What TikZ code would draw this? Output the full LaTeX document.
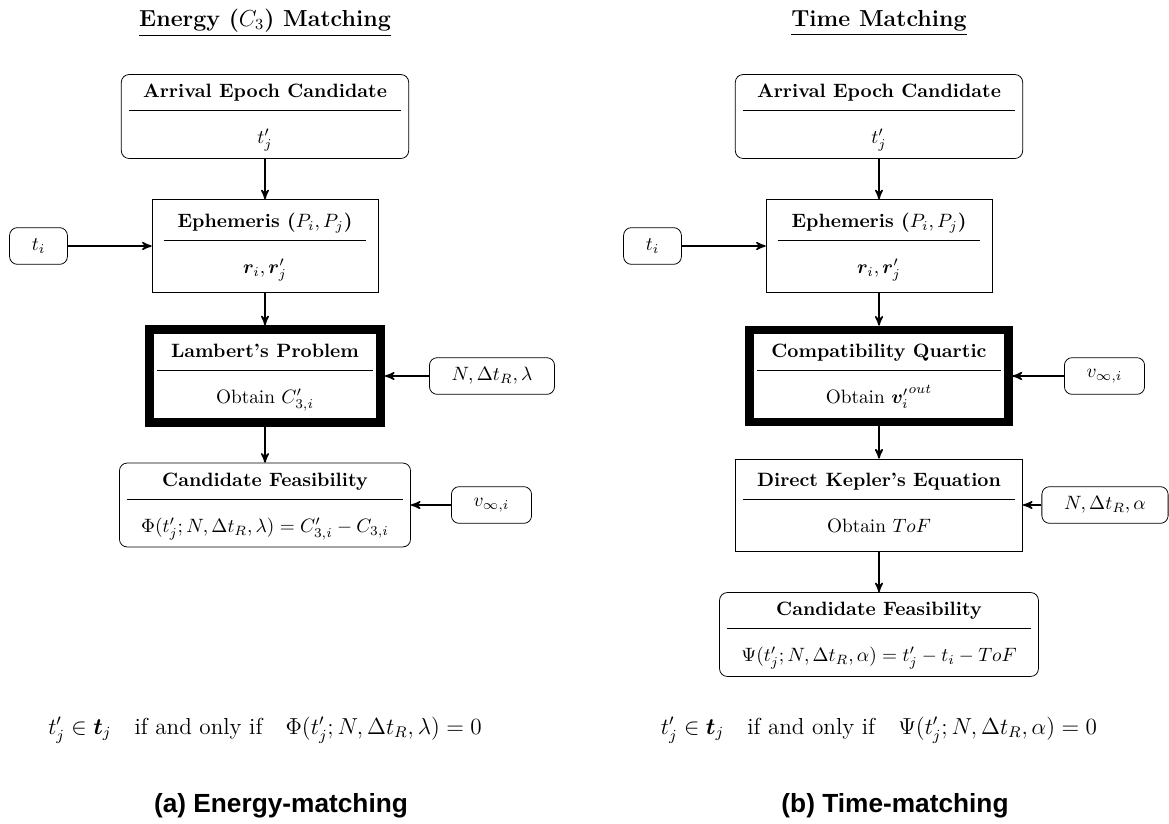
\documentclass[tikz,border=0pt]{standalone}
\usepackage{amsmath}
\usepackage{bm}
\usepackage{fontspec}
\newfontfamily\capfont{Liberation Sans}
\usetikzlibrary{positioning, arrows}
\newcommand{\blocktext}[2]{%
	\begin{tabular}{@{\hspace{7.25pt}}c@{\hspace{7.25pt}}}
		\textbf{#1}\\[2.7pt]\hline
		\rule{0pt}{17pt}#2
	\end{tabular}}
\tikzset{
	->,
	>=stealth',
	block/.style={draw, rectangle, inner xsep=4pt, inner ysep=6pt},
	endblock/.style={block, rounded corners=4pt, inner ysep=3.7pt},
	coreblock/.style={block, line width=4.5pt},
	inbox/.style={draw, rounded corners=4pt, inner xsep=11.5pt, minimum height=19pt},
	eqstyle/.style={font=\large},
	capstyle/.style={font=\capfont\bfseries\fontsize{13.6}{16}\selectfont}}

\begin{document}
\begin{tikzpicture}[x=0.518pt, y=-0.518pt]
		\useasboundingbox (0,0) rectangle (1169,823);

		% energy matching
		\node at (265,23) (titleL) {\large\underline{\textbf{Energy ($C_3$) Matching}}};
		\node[endblock] at (265,116.5) (arrL) {\blocktext{Arrival Epoch Candidate}{$t'_j$}};
		\node[block, inner xsep=6pt] at (265,246) (ephL) {\blocktext{Ephemeris ($P_i, P_j$)}{$\bm{r}_i, \bm{r}'_j$}};
		\node[coreblock] at (265,376) (lamL) {\blocktext{Lambert's Problem}{Obtain $C'_{3,i}$}};
		\node[endblock] at (265,505) (feasL) {\blocktext{Candidate Feasibility}{$\Phi(t'_j; N, \Delta t_R, \lambda) = C'_{3,i} - C_{3,i}$}};
		\node[inbox] at (38.5,246) (tiL) {$t_i$};
		\node[inbox] at (492,376) (nL) {$N, \Delta t_R, \lambda$};
		\node[inbox] at (491.5,505) (vL) {$v_{\infty,i}$};
		\node[eqstyle] at (265,730) (eqL) {$t'_j \in \bm{t}_j \quad\text{if and only if}\quad \Phi(t'_j; N, \Delta t_R, \lambda) = 0$};
		\node[capstyle] at (281,806) (capL) {(a) Energy-matching};

		\draw[thick]
		(arrL) edge (ephL)
		(ephL) edge (lamL)
		(lamL) edge (feasL)
		(tiL) edge (ephL)
		(nL) edge (lamL)
		(vL) edge (feasL)
		;

		% time matching
		\node at (879,23) (titleR) {\large\underline{\textbf{Time Matching}}};
		\node[endblock] at (879,116.5) (arrR) {\blocktext{Arrival Epoch Candidate}{$t'_j$}};
		\node[block, inner xsep=6pt] at (879,246) (ephR) {\blocktext{Ephemeris ($P_i, P_j$)}{$\bm{r}_i, \bm{r}'_j$}};
		\node[coreblock] at (879,376) (quartR) {\blocktext{Compatibility Quartic}{Obtain ${\bm{v}'_i}^{out}$}};
		\node[block] at (879,505) (kepR) {\blocktext{Direct Kepler's Equation}{Obtain $ToF$}};
		\node[endblock] at (879,634.5) (feasR) {\blocktext{Candidate Feasibility}{$\Psi(t'_j; N, \Delta t_R, \alpha) = t'_j - t_i - ToF$}};
		\node[inbox] at (652.5,246) (tiR) {$t_i$};
		\node[inbox] at (1104.5,376) (vR) {$v_{\infty,i}$};
		\node[inbox] at (1105,505) (nR) {$N, \Delta t_R, \alpha$};
		\node[eqstyle] at (879,730) (eqR) {$t'_j \in \bm{t}_j \quad\text{if and only if}\quad \Psi(t'_j; N, \Delta t_R, \alpha) = 0$};
		\node[capstyle] at (895,806) (capR) {(b) Time-matching};

		\draw[thick]
		(arrR) edge (ephR)
		(ephR) edge (quartR)
		(quartR) edge (kepR)
		(kepR) edge (feasR)
		(tiR) edge (ephR)
		(vR) edge (quartR)
		(nR) edge (kepR)
		;
	\end{tikzpicture}
\end{document}
